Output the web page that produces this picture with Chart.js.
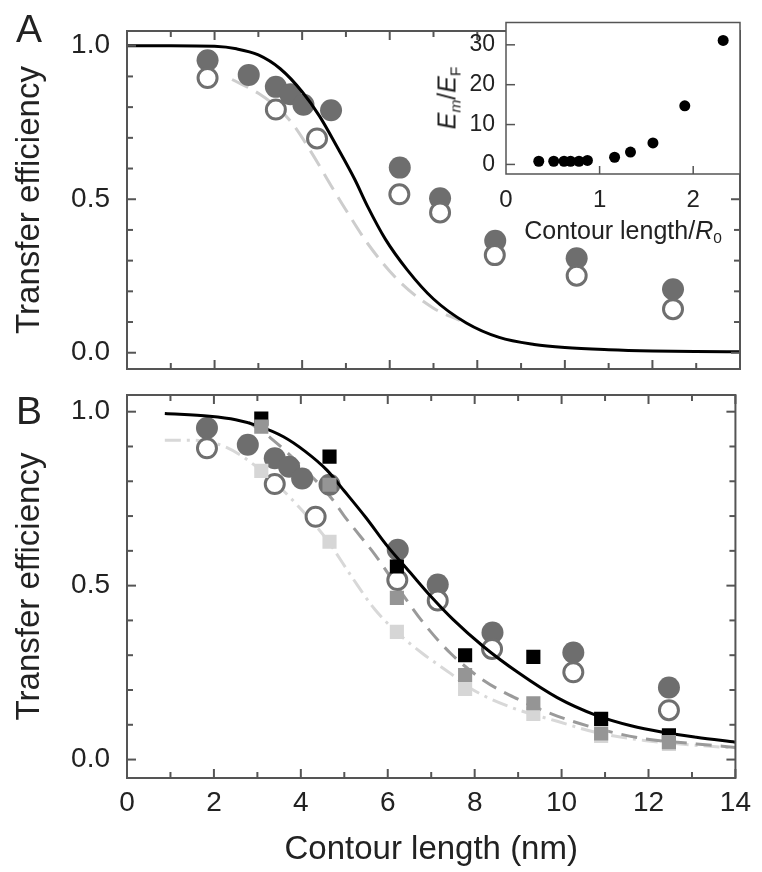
<!DOCTYPE html>
<html><head><meta charset="utf-8">
<script src="https://cdn.jsdelivr.net/npm/chart.js@4.4.1/dist/chart.umd.min.js"></script>
<style>
html,body{margin:0;padding:0;background:#fff;}
#wrap{position:relative;width:762px;height:872px;overflow:hidden;background:#fff;}
canvas{position:absolute;}
.lbl{position:absolute;font-family:'Liberation Sans',Arial,sans-serif;color:#222;white-space:nowrap;line-height:1;}
.lbl sub{font-size:0.62em;vertical-align:-0.3em;line-height:0;}
</style></head><body>
<div id="wrap">
<canvas id="cA" width="762" height="400" style="left:0;top:0"></canvas>
<canvas id="cB" width="762" height="872" style="left:0;top:0"></canvas>
<canvas id="cI" width="382" height="260" style="left:380px;top:0"></canvas>
<div class="lbl" style="left:623px;top:230px;transform:translate(-50%,-50%);font-size:25px">Contour length/<i>R</i><sub>0</sub></div>
<div class="lbl" style="left:447px;top:98px;transform:translate(-50%,-50%) rotate(-90deg);font-size:25px"><i>E</i><sub><i>m</i></sub>/<i>E</i><sub>F</sub></div>
</div>
<script>
// ---------- data ----------
// measured points (both panels)
const circleX = [1.84, 2.78, 3.40, 3.73, 4.03, 4.66, 6.23, 7.15, 8.41, 10.27, 12.47];
const filledY = [0.953, 0.905, 0.866, 0.842, 0.808, 0.79, 0.603, 0.503, 0.365, 0.308, 0.207];
const openX = [1.84, 3.40, 4.34, 6.22, 7.15, 8.40, 10.27, 12.47];
const openY = [0.895, 0.792, 0.698, 0.516, 0.457, 0.318, 0.251, 0.142];

// panel A curves
const fitAx = [0, 1, 2, 2.5, 3, 3.5, 4, 4.4, 4.8, 5.2, 5.5, 5.9, 6.4, 7.0, 7.75, 8.5, 9.3, 10, 11, 12, 13, 14];
const fitAy = [1.0, 1.0, 0.998, 0.99, 0.97, 0.925, 0.85, 0.77, 0.67, 0.565, 0.475, 0.37, 0.27, 0.175, 0.097, 0.05, 0.027, 0.017, 0.01, 0.006, 0.004, 0.003];
const dashAx = [2.4, 3.0, 3.5, 3.8, 4.2, 4.7, 5.0, 5.5, 6.2, 7.0, 7.6];
const dashAy = [0.89, 0.845, 0.79, 0.742, 0.655, 0.535, 0.465, 0.355, 0.235, 0.145, 0.105];

// panel B curves
const fitBx = [0.87, 1.9, 2.5, 3.0, 3.6, 4.1, 4.6, 5.0, 5.5, 6.0, 6.5, 7.0, 7.5, 8.2, 9.0, 9.9, 10.8, 11.6, 12.3, 13.1, 14];
const fitBy = [0.995, 0.987, 0.977, 0.96, 0.928, 0.886, 0.832, 0.772, 0.695, 0.612, 0.54, 0.468, 0.403, 0.325, 0.25, 0.178, 0.127, 0.097, 0.079, 0.064, 0.05];
const midBx = [2.8, 3.3, 4.0, 4.7, 5.0, 5.35, 5.7, 6.2, 6.84, 7.45, 8.2, 8.97, 9.9, 10.8, 11.9, 13.1, 14];
const midBy = [0.97, 0.925, 0.845, 0.752, 0.70, 0.645, 0.59, 0.50, 0.39, 0.305, 0.228, 0.175, 0.125, 0.09, 0.06, 0.045, 0.035];
const lightBx = [0.87, 1.5, 2.3, 3.0, 3.5, 4.0, 4.6, 5.2, 5.7, 6.2, 6.8, 7.45, 7.9, 8.8, 9.9, 10.8, 11.9, 13, 14];
const lightBy = [0.918, 0.918, 0.897, 0.84, 0.785, 0.72, 0.632, 0.52, 0.432, 0.367, 0.305, 0.247, 0.205, 0.152, 0.11, 0.078, 0.055, 0.042, 0.033];

// panel B squares
const sqX = [3.09, 4.66, 6.21, 7.78, 9.35, 10.91, 12.47];
const blackSqY = [0.98, 0.871, 0.555, 0.30, 0.295, 0.117, 0.07];
const midSqY = [0.957, 0.79, 0.465, 0.243, 0.162, 0.075, 0.05];
const lightSqY = [0.83, 0.626, 0.367, 0.203, 0.131, 0.068, 0.045];

// inset
const insetX = [0.35, 0.51, 0.62, 0.69, 0.78, 0.87, 1.16, 1.33, 1.57, 1.91, 2.32];
const insetY = [0.8, 0.8, 0.8, 0.8, 0.8, 1.0, 1.8, 3.1, 5.4, 14.7, 31.1];

// ticks
const xMajorTicks = [0, 2, 4, 6, 8, 10, 12, 14];
const xMinorTicks = [1, 3, 5, 7, 9, 11, 13];
const yMajorTicks = [0, 0.5, 1.0];
const yMinorTicks = [0.1, 0.2, 0.3, 0.4, 0.6, 0.7, 0.8, 0.9];
const insetXTicks = [0, 1, 2];
const insetYTicks = [0, 10, 20, 30];

// texts
const yTitle = 'Transfer efficiency';
const xTitle = 'Contour length (nm)';
const panelLetters = ['A', 'B'];

// ---------- rendering ----------
const FONT = "'Liberation Sans', Arial, Helvetica, sans-serif";
const INK = '#222';
const FRAME = '#555';
const TICK_SIZE = 28, TITLE_SIZE = 33;
const pts = (xs, ys) => xs.map((x, i) => ({x, y: ys[i]}));

const framePlugin = {
  id: 'frame',
  beforeDatasetsDraw(chart, args, o) {
    if (!o.fill) return;
    const a = chart.chartArea, ctx = chart.ctx;
    ctx.save(); ctx.fillStyle = o.fill;
    ctx.fillRect(a.left, a.top, a.right - a.left, a.bottom - a.top);
    ctx.restore();
  },
  afterDraw(chart, args, o) {
    const {ctx, chartArea: a, scales} = chart;
    ctx.save();
    ctx.strokeStyle = o.color; ctx.lineWidth = o.width;
    (o.ticks || []).forEach(t => {
      const sc = scales[t.axis];
      t.values.forEach(v => {
        const p = sc.getPixelForValue(v);
        ctx.beginPath();
        if (t.side === 'top') { ctx.moveTo(p, a.top); ctx.lineTo(p, a.top + t.len); }
        else if (t.side === 'bottom') { ctx.moveTo(p, a.bottom); ctx.lineTo(p, a.bottom - t.len); }
        else if (t.side === 'left') { ctx.moveTo(a.left, p); ctx.lineTo(a.left + t.len, p); }
        else { ctx.moveTo(a.right, p); ctx.lineTo(a.right - t.len, p); }
        ctx.stroke();
      });
    });
    ctx.strokeRect(a.left, a.top, a.right - a.left, a.bottom - a.top);
    if (o.letter) {
      ctx.fillStyle = INK; ctx.font = o.letter.font;
      ctx.textBaseline = 'alphabetic'; ctx.textAlign = 'left';
      ctx.fillText(o.letter.text, o.letter.x, o.letter.y);
    }
    ctx.restore();
  }
};
Chart.register(framePlugin);

const Y_MIN = -0.053, Y_MAX = 1.048;
const mainTicks = [
  {axis: 'x', side: 'top', values: xMajorTicks, len: 9},
  {axis: 'x', side: 'top', values: xMinorTicks, len: 6},
  {axis: 'x', side: 'bottom', values: xMajorTicks, len: 9},
  {axis: 'x', side: 'bottom', values: xMinorTicks, len: 6},
  {axis: 'y', side: 'left', values: yMajorTicks, len: 9},
  {axis: 'y', side: 'left', values: yMinorTicks, len: 6},
  {axis: 'y', side: 'right', values: yMajorTicks, len: 9},
  {axis: 'y', side: 'right', values: yMinorTicks, len: 6}
];

function yScale() {
  return {
    type: 'linear', min: Y_MIN, max: Y_MAX,
    afterFit: s => { s.width = 127; },
    afterBuildTicks: s => { s.ticks = yMajorTicks.map(v => ({value: v})); },
    grid: {display: false, drawTicks: false}, border: {display: false},
    ticks: {padding: 17, color: INK, font: {family: FONT, size: TICK_SIZE, lineHeight: 1}, callback: v => Number(v).toFixed(1)},
    title: {display: true, text: yTitle, color: INK, font: {family: FONT, size: TITLE_SIZE, lineHeight: 1}, padding: {top: 13, bottom: 0}}
  };
}
const circleSets = (o1, o2) => [
  {data: pts(openX, openY), pointStyle: 'circle', pointRadius: 9.5, borderWidth: 3, borderColor: '#6f6f6f', backgroundColor: '#fff', order: o1},
  {data: pts(circleX, filledY), pointStyle: 'circle', pointRadius: 11, borderWidth: 0, backgroundColor: '#6e6e6e', order: o2}
];
const line = (xs, ys, color, dash, order) => ({
  data: pts(xs, ys), showLine: true, pointRadius: 0, borderColor: color, borderWidth: 3,
  borderDash: dash, cubicInterpolationMode: 'monotone', order
});
const base = {responsive: false, animation: false, devicePixelRatio: 1, events: []};

// Panel A
new Chart(document.getElementById('cA'), {
  type: 'scatter',
  data: {datasets: [
    line(fitAx, fitAy, '#000', [], 1),
    line(dashAx, dashAy, '#cdcdcd', [18, 9], 5),
    ...circleSets(2, 3)
  ]},
  options: Object.assign({}, base, {
    layout: {padding: {top: 13, right: 22, bottom: 5, left: 0}},
    plugins: {legend: {display: false}, tooltip: {enabled: false},
      frame: {color: FRAME, width: 2, ticks: mainTicks, letter: {text: panelLetters[0], x: 16, y: 42, font: '39px ' + FONT}}},
    scales: {x: {type: 'linear', min: 0, max: 14, display: false}, y: yScale()}
  })
});

// Panel B
new Chart(document.getElementById('cB'), {
  type: 'scatter',
  data: {datasets: [
    {data: pts(sqX, midSqY), pointStyle: 'rect', pointRadius: 10, borderWidth: 0, backgroundColor: '#959595', order: 0},
    {data: pts(sqX, blackSqY), pointStyle: 'rect', pointRadius: 10, borderWidth: 0, backgroundColor: '#000', order: 1},
    {data: pts(sqX, lightSqY), pointStyle: 'rect', pointRadius: 10, borderWidth: 0, backgroundColor: '#d6d6d6', order: 2},
    line(fitBx, fitBy, '#000', [], 3),
    ...circleSets(4, 5),
    line(midBx, midBy, '#9a9a9a', [16, 9], 6),
    line(lightBx, lightBy, '#d8d8d8', [16, 6, 3, 6], 7)
  ]},
  options: Object.assign({}, base, {
    layout: {padding: {top: 395, right: 22, bottom: 0, left: 0}},
    plugins: {legend: {display: false}, tooltip: {enabled: false},
      frame: {color: FRAME, width: 2, ticks: mainTicks, letter: {text: panelLetters[1], x: 16, y: 424, font: '39px ' + FONT}}},
    scales: {
      x: {type: 'linear', min: 0, max: 14,
        afterFit: s => { s.height = 94; },
        afterBuildTicks: s => { s.ticks = xMajorTicks.map(v => ({value: v})); },
        grid: {display: false, drawTicks: false}, border: {display: false},
        ticks: {padding: 11, color: INK, maxRotation: 0, font: {family: FONT, size: TICK_SIZE, lineHeight: 1}, callback: v => String(v)},
        title: {display: true, text: xTitle, color: INK, font: {family: FONT, size: TITLE_SIZE, lineHeight: 1}, padding: {top: 0, bottom: 6}}
      },
      y: yScale()
    }
  })
});

// Inset
new Chart(document.getElementById('cI'), {
  type: 'scatter',
  data: {datasets: [
    {data: pts(insetX, insetY), pointStyle: 'circle', pointRadius: 5.5, borderWidth: 0, backgroundColor: '#000'}
  ]},
  options: Object.assign({}, base, {
    layout: {padding: {top: 13, right: 22, bottom: 0, left: 0}},
    plugins: {legend: {display: false}, tooltip: {enabled: false},
      frame: {fill: '#fff', color: FRAME, width: 1.5, ticks: [
        {axis: 'x', side: 'bottom', values: insetXTicks.slice(1), len: 8},
        {axis: 'y', side: 'left', values: insetYTicks, len: 9}
      ]}},
    scales: {
      x: {type: 'linear', min: 0, max: 2.5,
        afterFit: s => { s.height = 86; },
        afterBuildTicks: s => { s.ticks = insetXTicks.map(v => ({value: v})); },
        grid: {display: false, drawTicks: false}, border: {display: false},
        ticks: {padding: 14, color: INK, maxRotation: 0, font: {family: FONT, size: 24, lineHeight: 1}, callback: v => String(v)}
      },
      y: {type: 'linear', min: -2.4, max: 35.6,
        afterFit: s => { s.width = 126; },
        afterBuildTicks: s => { s.ticks = insetYTicks.map(v => ({value: v})); },
        grid: {display: false, drawTicks: false}, border: {display: false},
        ticks: {padding: 11, color: INK, font: {family: FONT, size: 23, lineHeight: 1}, callback: v => String(v)}
      }
    }
  })
});
</script>
</body></html>
